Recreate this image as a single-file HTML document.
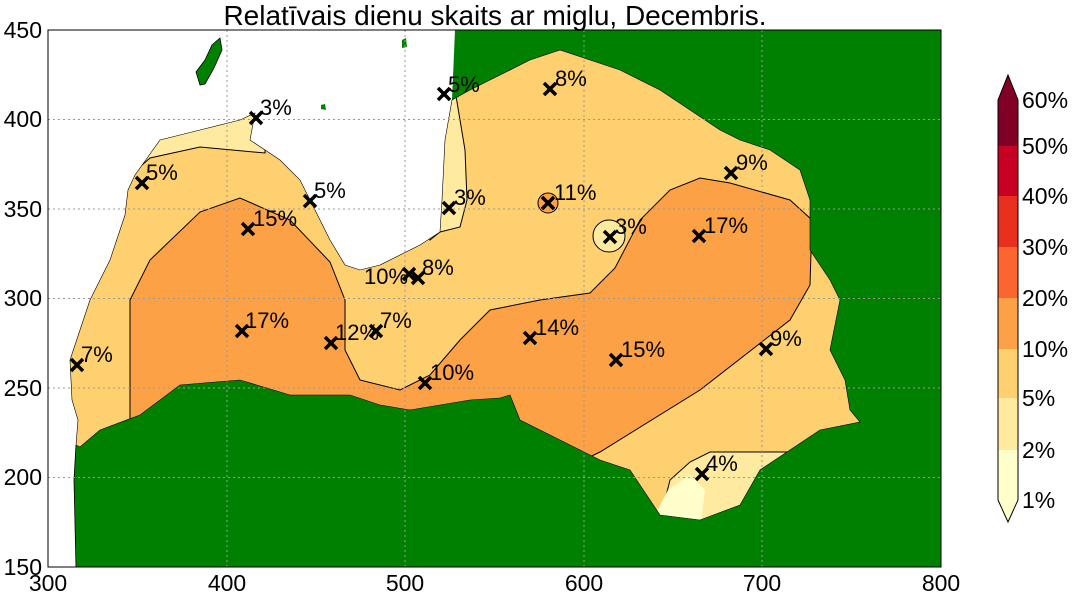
<!DOCTYPE html>
<html><head><meta charset="utf-8"><style>
body{margin:0;background:#fff;width:1072px;height:598px;overflow:hidden}
svg{font-family:"Liberation Sans",sans-serif}
</style></head><body>
<svg width="1072" height="598" viewBox="0 0 1072 598">
<defs>
<clipPath id="ax"><rect x="48" y="30" width="893" height="537"/></clipPath>
<clipPath id="lv"><path id="lvp" d="M76,445 L78,420 L72,400 L70,360 L80,330 L90,300 L110,260 L125,215 L128,190 L135,175 L160,140 L200,130 L240,120 L255,113 L250,140 L280,160 L300,180 L310,200 L320,220 L330,240 L345,265 L360,270 L380,265 L400,255 L420,245 L440,232 L442,200 L445,140 L452,100 L470,90 L500,75 L530,60 L560,50 L590,60 L620,70 L660,90 L690,110 L720,130 L740,140 L770,150 L800,170 L810,200 L810,250 L830,280 L840,300 L830,350 L845,380 L850,410 L860,422 L820,430 L790,450 L760,470 L740,505 L700,520 L660,515 L630,470 L600,460 L560,440 L520,420 L510,395 L500,398 L470,400 L440,405 L410,410 L380,405 L350,395 L290,395 L240,380 L180,385 L140,415 L100,430 L80,447 Z"/></clipPath>
</defs>
<g clip-path="url(#ax)">
<rect x="48" y="30" width="893" height="537" fill="#008000"/>
<path d="M48,30 L455,30 L452,100 L445,140 L442,200 L440,232 L420,245 L400,255 L380,265 L360,270 L345,265 L330,240 L320,220 L310,200 L300,180 L280,160 L250,140 L255,113 L240,120 L200,130 L160,140 L135,175 L128,190 L125,215 L110,260 L90,300 L80,330 L70,360 L72,400 L78,420 L76,445 L74,480 L76,567 L48,567 Z" fill="#fff"/>
<path d="M76,445 L74,480 L76,567" fill="none" stroke="#000" stroke-width="0.8"/>
<path d="M200,85 L196,72 L205,60 L212,45 L220,38 L222,50 L214,68 L205,84 Z" fill="#008000" stroke="#000" stroke-width="0.8"/>
<path d="M321,105 L325,104 L326,110 L321,109 Z" fill="#008000"/>
<path d="M402,40 L406,38 L407,47 L402,48 Z" fill="#008000"/>
<g clip-path="url(#lv)">
<rect x="48" y="30" width="893" height="537" fill="#fed06f"/>
<path d="M100,190 L125,180 L150,158 L200,147 L265,153 L265,100 L100,100 Z" fill="#ffeaa0" stroke="#000" stroke-width="1"/>
<path d="M440,232 L460,227 L467,200 L465,150 L460,120 L455,90 L430,90 L430,240 Z" fill="#ffeaa0" stroke="#000" stroke-width="1"/>
<path d="M130,480 L130,300 L150,260 L200,212 L240,198 L290,220 L330,262 L345,300 L345,350 L360,380 L400,390 L430,375 L460,340 L490,310 L540,300 L590,293 L615,268 L640,220 L670,190 L700,178 L730,183 L790,200 L812,220 L810,285 L790,320 L700,390 L600,452 L500,500 L130,500 Z" fill="#fda147" stroke="#000" stroke-width="1"/>
<path d="M660,520 L670,480 L690,462 L710,452 L830,452 L870,520 Z" fill="#ffeaa0" stroke="#000" stroke-width="1"/>
<path d="M650,525 L668,490 L690,475 L705,490 L700,530 Z" fill="#ffffcc"/>
<circle cx="609" cy="236" r="16" fill="#ffeaa0" stroke="#000" stroke-width="1"/>
<circle cx="548" cy="203" r="10" fill="#fda147" stroke="#000" stroke-width="1"/>
</g>
<use href="#lvp" fill="none" stroke="#000" stroke-width="0.6"/>
<g stroke="#999" stroke-dasharray="2,3" stroke-width="1">
<line x1="227" y1="30" x2="227" y2="567"/><line x1="405" y1="30" x2="405" y2="567"/><line x1="584" y1="30" x2="584" y2="567"/><line x1="762" y1="30" x2="762" y2="567"/>
<line x1="48" y1="119.5" x2="941" y2="119.5"/><line x1="48" y1="209" x2="941" y2="209"/><line x1="48" y1="298.5" x2="941" y2="298.5"/><line x1="48" y1="388" x2="941" y2="388"/><line x1="48" y1="477.5" x2="941" y2="477.5"/>
</g>
</g>
<rect x="48" y="30" width="893" height="537" fill="none" stroke="#000" stroke-width="1"/>
<g stroke="#000" stroke-width="3.5">
<path d="M71,359l12,12M83,359l-12,12"/><path d="M136,177l12,12M148,177l-12,12"/><path d="M250,112l12,12M262,112l-12,12"/><path d="M242,223l12,12M254,223l-12,12"/><path d="M304,195l12,12M316,195l-12,12"/><path d="M438,88l12,12M450,88l-12,12"/><path d="M443,202l12,12M455,202l-12,12"/><path d="M544,83l12,12M556,83l-12,12"/><path d="M542,197l12,12M554,197l-12,12"/><path d="M604,231l12,12M616,231l-12,12"/><path d="M725,167l12,12M737,167l-12,12"/><path d="M693,230l12,12M705,230l-12,12"/><path d="M236,325l12,12M248,325l-12,12"/><path d="M325,337l12,12M337,337l-12,12"/><path d="M370,325l12,12M382,325l-12,12"/><path d="M403,268l12,12M415,268l-12,12"/><path d="M412,272l12,12M424,272l-12,12"/><path d="M419,377l12,12M431,377l-12,12"/><path d="M524,332l12,12M536,332l-12,12"/><path d="M610,354l12,12M622,354l-12,12"/><path d="M760,343l12,12M772,343l-12,12"/><path d="M696,468l12,12M708,468l-12,12"/>
</g>
<g font-size="22" fill="#000">
<text x="81" y="362">7%</text><text x="146" y="180">5%</text><text x="260" y="115">3%</text><text x="253" y="226">15%</text><text x="314" y="198">5%</text><text x="448" y="92">5%</text><text x="454" y="205">3%</text><text x="555" y="86">8%</text><text x="554" y="200">11%</text><text x="615" y="234">3%</text><text x="736" y="170">9%</text><text x="704" y="233">17%</text><text x="245" y="328">17%</text><text x="335" y="340">12%</text><text x="380" y="328">7%</text><text x="364" y="284">10%</text><text x="422" y="275">8%</text><text x="430" y="380">10%</text><text x="535" y="335">14%</text><text x="621" y="357">15%</text><text x="770" y="346">9%</text><text x="706" y="471">4%</text>
</g>
<text x="495" y="25" font-size="28" text-anchor="middle">Relatīvais dienu skaits ar miglu, Decembris.</text>
<g font-size="23" text-anchor="middle">
<text x="48" y="591">300</text><text x="227" y="591">400</text><text x="405" y="591">500</text><text x="584" y="591">600</text><text x="762" y="591">700</text><text x="941" y="591">800</text>
</g>
<g font-size="23" text-anchor="end">
<text x="42" y="38">450</text><text x="42" y="127">400</text><text x="42" y="217">350</text><text x="42" y="306">300</text><text x="42" y="396">250</text><text x="42" y="485">200</text><text x="42" y="575">150</text>
</g>
<g>
<path d="M998,100 L1008,75 L1018,100 Z" fill="#800026"/>
<rect x="998" y="100" width="20" height="46" fill="#800026"/>
<rect x="998" y="146" width="20" height="50" fill="#c70024"/>
<rect x="998" y="196" width="20" height="51" fill="#e9301f"/>
<rect x="998" y="247" width="20" height="51" fill="#fb6630"/>
<rect x="998" y="298" width="20" height="51" fill="#fda147"/>
<rect x="998" y="349" width="20" height="49" fill="#fed06f"/>
<rect x="998" y="398" width="20" height="52" fill="#ffeaa0"/>
<rect x="998" y="450" width="20" height="50" fill="#ffffcc"/>
<path d="M998,500 L1008,522 L1018,500 Z" fill="#ffffcc"/>
<path d="M998,100 L1008,75 L1018,100 L1018,500 L1008,522 L998,500 Z" fill="none" stroke="#000" stroke-width="1"/>
</g>
<g font-size="23">
<text x="1022" y="108">60%</text><text x="1022" y="154">50%</text><text x="1022" y="204">40%</text><text x="1022" y="255">30%</text><text x="1022" y="306">20%</text><text x="1022" y="357">10%</text><text x="1022" y="406">5%</text><text x="1022" y="458">2%</text><text x="1022" y="508">1%</text>
</g>
</svg>
</body></html>
